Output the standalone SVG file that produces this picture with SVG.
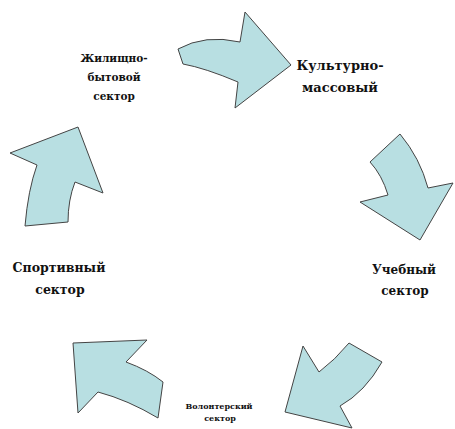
<svg xmlns="http://www.w3.org/2000/svg" width="455" height="429" viewBox="0 0 455 429">
<style>
.arr{fill:#b8dfe2;stroke:#444;stroke-width:1;stroke-linejoin:miter}
.t{font-family:"DejaVu Serif","Liberation Serif",serif;font-weight:bold;fill:#111;text-anchor:middle}
</style>
<rect width="455" height="429" fill="#fff"/>
<g id="connectors">
<path class="arr" d="M178,49 Q205,34 240,42 L245,12 L291,65 L235,108 L238,82 Q205,68 183,64 Z"/>
<path class="arr" d="M370,162 L400,134 Q420,158 428,188 L453,183 L420,240 L360,202 L388,195 Q382,175 370,162 Z"/>
<path class="arr" d="M303,346 L319,372 Q335,360 349,343 L382,362 Q365,392 340,406 L352,428 L285,412 Z"/>
<path class="arr" d="M73,343 L147,340 L126,362 Q148,370 163,382 L158,418 Q128,400 98,392 L78,413 Z"/>
<path class="arr" d="M10,153 L78,127 L103,193 L75,182 Q68,200 68,222 L25,226 Q28,190 37,165 Z"/>
</g>
<g id="n1"><text class="t" font-size="10.5"><tspan x="114" y="62">Жилищно-</tspan><tspan x="114" y="81">бытовой</tspan><tspan x="114" y="100">сектор</tspan></text></g>
<g id="n2"><text class="t" font-size="13"><tspan x="340" y="70">Культурно-</tspan><tspan x="340" y="92">массовый</tspan></text></g>
<g id="n3"><text class="t" font-size="12"><tspan x="404" y="274">Учебный</tspan><tspan x="405" y="295">сектор</tspan></text></g>
<g id="n4"><text class="t" font-size="12.5"><tspan x="59" y="272">Спортивный</tspan><tspan x="60" y="294">сектор</tspan></text></g>
<g id="n5"><text class="t" font-size="8"><tspan x="219" y="409">Волонтерский</tspan><tspan x="220" y="421">сектор</tspan></text></g>
</svg>
